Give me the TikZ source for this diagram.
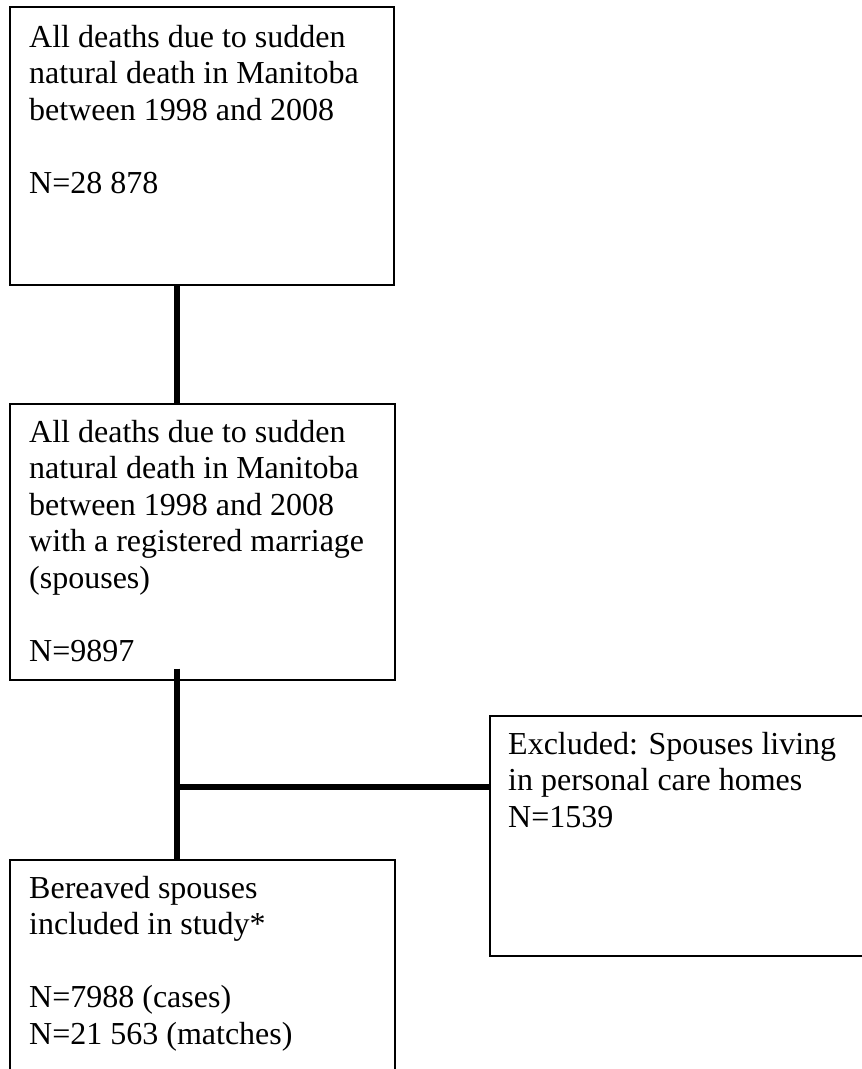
\documentclass[tikz,border=0pt]{standalone}
\usepackage{fontspec}
\setmainfont{Liberation Serif}
\begin{document}
\begin{tikzpicture}[x=1pt,y=-1pt,
  box/.style={draw=black, line width=1.5pt, rectangle, inner sep=0pt, anchor=north west},
  txt/.style={anchor=base west, inner sep=0pt, font=\fontsize{32pt}{36.6pt}\selectfont},
  link/.style={line width=5.5pt, draw=black}]
\useasboundingbox (0,0) rectangle (862,1069);
\clip (0,0) rectangle (862,1069);
\node[box, minimum width=384pt, minimum height=278pt] (b1) at (9,6) {};
\node[box, minimum width=385pt, minimum height=276pt] (b2) at (9,403) {};
\node[box, minimum width=390pt, minimum height=240pt] (b3) at (489,715) {};
\node[box, minimum width=385pt, minimum height=230pt] (b4) at (9,859) {};
\node[txt] (t1) at (29,47) {\parbox[t]{420pt}{\raggedright All deaths due to sudden\\natural death in Manitoba\\between 1998 and 2008\\\mbox{}\\N=28 878}};
\node[txt] (t2) at (29,442) {\parbox[t]{420pt}{\raggedright All deaths due to sudden\\natural death in Manitoba\\between 1998 and 2008\\with a registered marriage\\(spouses)\\\mbox{}\\N=9897}};
\node[txt] (t3) at (508,754) {\parbox[t]{420pt}{\raggedright Excluded: Spouses living\\in personal care homes\\N=1539}};
\node[txt] (t4) at (29,898) {\parbox[t]{420pt}{\raggedright Bereaved spouses\\included in study*\\\mbox{}\\N=7988 (cases)\\N=21 563 (matches)}};
\coordinate (cx) at (177,0);
\coordinate (s2) at ([yshift=12pt]b2.south);
\coordinate (j) at (177,787);
\draw[link] (b1.south -| cx) -- (b2.north -| cx);
\draw[link] (s2 -| cx) -- (b4.north -| cx);
\draw[link] (j) -- (j -| b3.west);
\end{tikzpicture}
\end{document}
